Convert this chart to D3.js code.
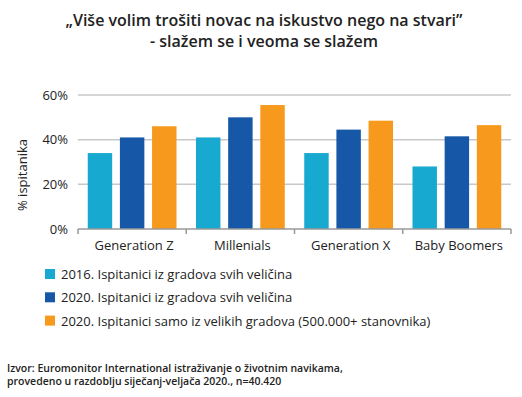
<!DOCTYPE html>
<head>
  <meta charset="utf-8">
  <script src="https://d3js.org/d3.v7.min.js"></script>
  <style>
  body { margin: 0; background: #fff; }
  text { font-family: "Open Sans", sans-serif; fill: #222; }
  .grid line { stroke: #c8c8c8; stroke-width: 1.5px; }
  .tick text { font-size: 13px; }
  </style>
</head>
<body>
  <script>
    // data
    var categories = ["Generation Z", "Millenials", "Generation X", "Baby Boomers"];
    var seriesNames = ["2016. Ispitanici iz gradova svih veličina",
                       "2020. Ispitanici iz gradova svih veličina",
                       "2020. Ispitanici samo iz velikih gradova (500.000+ stanovnika)"];
    var s2016 = [34, 41, 34, 28];
    var s2020 = [41, 50, 44.5, 41.5];
    var s2020big = [46, 55.5, 48.5, 46.5];
    var yTicks = [0, 20, 40, 60];
    var colors = ["#18a9d0", "#1657a8", "#f7991c"];

    var width = 522, height = 397;
    var margin = {top: 95, left: 78, right: 11, bottom: 168};
    var plotW = width - margin.left - margin.right,
        plotH = height - margin.top - margin.bottom;

    var svg = d3.select("body").append("svg")
        .attr("width", width).attr("height", height);

    // title
    svg.append("text").attr("x", 264).attr("y", 26)
      .attr("text-anchor", "middle").attr("font-size", 16).attr("font-weight", 600)
      .text("„Više volim trošiti novac na iskustvo nego na stvari”");
    svg.append("text").attr("x", 264).attr("y", 47)
      .attr("text-anchor", "middle").attr("font-size", 16).attr("font-weight", 600)
      .text("- slažem se i veoma se slažem");

    var g = svg.append("g").attr("transform", "translate(" + margin.left + "," + margin.top + ")");

    var x0 = d3.scaleBand().domain(categories).range([0, plotW]).paddingInner(0.18).paddingOuter(0.09);
    var x1 = d3.scaleBand().domain([0, 1, 2]).range([0, x0.bandwidth()]).paddingInner(0.24).paddingOuter(0);
    var y = d3.scaleLinear().domain([0, 60]).range([plotH, 0]);

    // grid
    g.append("g").attr("class", "grid")
      .selectAll("line").data(yTicks.slice(1)).enter().append("line")
      .attr("x1", 0).attr("x2", plotW)
      .attr("y1", function(d) { return y(d); }).attr("y2", function(d) { return y(d); });

    // bars
    var rows = categories.map(function(c, i) { return [s2016[i], s2020[i], s2020big[i]]; });
    var grp = g.selectAll(".cat").data(rows).enter().append("g")
      .attr("transform", function(d, i) { return "translate(" + x0(categories[i]) + ",0)"; });
    grp.selectAll("rect").data(function(d) { return d; }).enter().append("rect")
      .attr("x", function(d, j) { return x1(j); })
      .attr("width", x1.bandwidth())
      .attr("y", function(d) { return y(d); })
      .attr("height", function(d) { return plotH - y(d); })
      .attr("fill", function(d, j) { return colors[j]; });

    // x axis: band boundaries as ticks
    var xa = g.append("g").attr("transform", "translate(0," + plotH + ")");
    xa.append("line").attr("x1", 0).attr("x2", plotW).attr("stroke", "#999").attr("stroke-width", 1.5);
    xa.selectAll(".sep").data(d3.range(categories.length + 1)).enter().append("line")
      .attr("x1", function(i) { return i * plotW / categories.length; })
      .attr("x2", function(i) { return i * plotW / categories.length; })
      .attr("y1", 0).attr("y2", 5).attr("stroke", "#999").attr("stroke-width", 1.5);
    xa.selectAll(".lab").data(categories).enter().append("text")
      .attr("x", function(d) { return x0(d) + x0.bandwidth() / 2 + 2; })
      .attr("y", 21).attr("text-anchor", "middle").attr("font-size", 13)
      .text(function(d) { return d; });

    // y axis labels
    var ya = g.append("g").call(d3.axisLeft(y).tickValues(yTicks)
      .tickFormat(function(d) { return d + "%"; }).tickSize(0).tickPadding(10));
    ya.select(".domain").remove();
    ya.selectAll("text").attr("font-family", "'Open Sans', sans-serif").attr("fill", "#222");

    svg.append("text").attr("transform", "translate(27,175) rotate(-90)")
      .attr("text-anchor", "middle").attr("font-size", 13).text("% ispitanika");

    // legend
    var leg = svg.append("g").attr("transform", "translate(45,269)");
    var li = leg.selectAll("g").data(seriesNames).enter().append("g")
      .attr("transform", function(d, i) { return "translate(0," + (i * 23.3) + ")"; });
    li.append("rect").attr("width", 10).attr("height", 10)
      .attr("fill", function(d, i) { return colors[i]; });
    li.append("text").attr("x", 16).attr("y", 10).attr("font-size", 13)
      .text(function(d) { return d; });

    // source
    svg.append("text").attr("x", 7).attr("y", 372).attr("font-size", 10.5).attr("font-weight", 600)
      .text("Izvor: Euromonitor International istraživanje o životnim navikama,");
    svg.append("text").attr("x", 7).attr("y", 385).attr("font-size", 10.5).attr("font-weight", 600)
      .text("provedeno u razdoblju siječanj-veljača 2020., n=40.420");
  </script>
</body>
